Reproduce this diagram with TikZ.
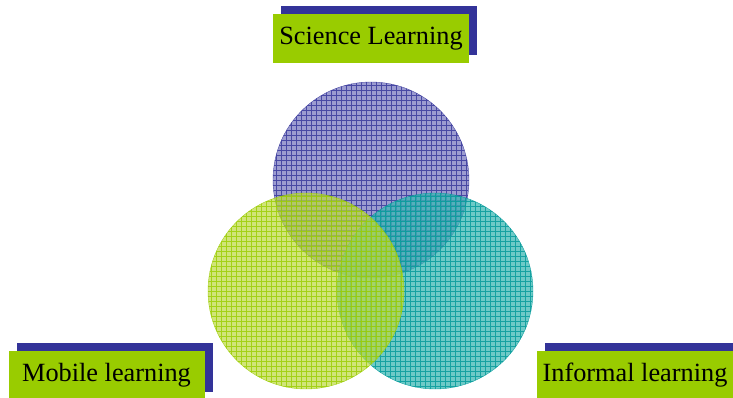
\documentclass[tikz,border=0pt]{standalone}
\usepackage{fontspec}
\setmainfont{Liberation Serif}
\usetikzlibrary{shadows}
\definecolor{lblgreen}{HTML}{99CC00}
\definecolor{shnavy}{HTML}{333399}
\definecolor{sciFill}{HTML}{7B7BC0}
\definecolor{sciLine}{HTML}{333399}
\definecolor{mobFill}{HTML}{BCDA40}
\definecolor{mobLine}{HTML}{99CC00}
\definecolor{infFill}{HTML}{3DB8B4}
\definecolor{infLine}{HTML}{009999}
\tikzset{
  venn/.style={circle, minimum size=196pt, inner sep=0pt},
  gridded/.style={path picture={\draw[#1, line width=0.55pt, opacity=0.8, step=5pt]
     (path picture bounding box.south west) grid (path picture bounding box.north east);}},
  label box/.style={fill=lblgreen, minimum width=196pt, minimum height=49pt, inner sep=0pt,
     font=\fontsize{26.3}{30}\selectfont,
     drop shadow={shadow xshift=8pt, shadow yshift=8pt, fill=shnavy, opacity=1}}
}
\begin{document}
\begin{tikzpicture}[x=1pt,y=-1pt]
\useasboundingbox (0,0) rectangle (733,398);
\node[venn, fill=sciFill, fill opacity=0.75, draw=sciLine, draw opacity=0.8, gridded=sciLine] (sci) at (371,180) {};
\node[venn, fill=infFill, fill opacity=0.75, draw=infLine, draw opacity=0.8, gridded=infLine] (inf) at (435,291) {};
\node[venn, fill=mobFill, fill opacity=0.7, draw=mobLine, draw opacity=0.8, gridded=mobLine] (mob) at (306,291) {};
\node[label box] (lsci) at (371,38.5) {Science Learning};
\node[label box] (lmob) at (106.5,375.5) {Mobile learning};
\node[label box] (linf) at (635,375.5) {Informal learning};
\end{tikzpicture}
\end{document}
